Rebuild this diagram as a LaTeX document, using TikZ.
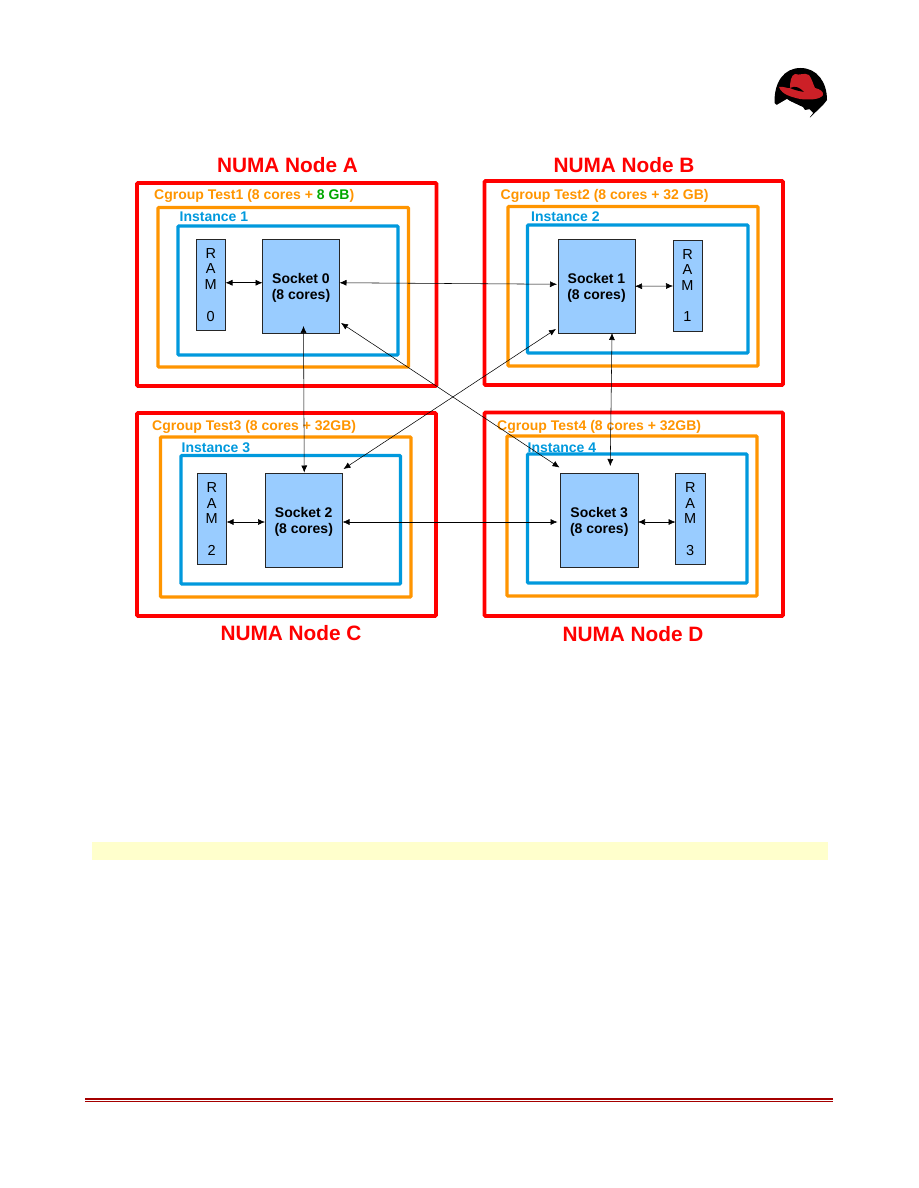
\documentclass[tikz,border=0pt]{standalone}
\usepackage{fontspec}
\setmainfont{Liberation Sans}
\usetikzlibrary{arrows.meta}
\definecolor{nred}{HTML}{FF0000}
\definecolor{norange}{HTML}{FF9500}
\definecolor{nblue}{HTML}{0099DD}
\definecolor{nfill}{HTML}{99CCFF}
\definecolor{ngreen}{HTML}{00A800}
\definecolor{hatred}{HTML}{CC2027}
\definecolor{footred}{HTML}{A50000}
\definecolor{strip}{HTML}{FFFFCC}
\tikzset{
  frame/.style={rectangle,inner sep=0pt,outer sep=0pt,rounded corners=1pt},
  numabox/.style={frame,draw=nred,line width=3.6pt},
  cgbox/.style={frame,draw=norange,line width=3.4pt},
  instbox/.style={frame,draw=nblue,line width=3.4pt},
  socketbox/.style={rectangle,inner sep=0pt,outer sep=0pt,draw=black!85,line width=.6pt,fill=nfill,align=center,
     font={\fontsize{14}{16}\selectfont\bfseries}},
  rambox/.style={socketbox,font={\fontsize{14.5}{15.7}\selectfont}},
  numalabel/.style={text=nred,font={\fontsize{20.8}{24}\selectfont\bfseries},inner sep=0pt},
  cglabel/.style={text=norange,anchor=west,font={\fontsize{14}{16}\selectfont\bfseries},inner sep=0pt},
  instlabel/.style={text=nblue,anchor=west,font={\fontsize{14}{16}\selectfont\bfseries},inner sep=0pt},
  link/.style={draw=black,line width=.55pt,{Latex[length=7pt,width=6pt]}-{Latex[length=7pt,width=6pt]}},
}
\newcommand{\bx}[7][]{%
  \pgfmathsetmacro{\bxw}{#5-#3}\pgfmathsetmacro{\bxh}{#6-#4}%
  \pgfmathsetmacro{\bxa}{(#5+#3)/2}\pgfmathsetmacro{\bxb}{(#6+#4)/2}%
  \node[#2,minimum width=\bxw pt,minimum height=\bxh pt] (#1) at (\bxa,\bxb) {#7};}
\newcommand{\sk}{\rule{0pt}{13pt}}
\begin{document}
\begin{tikzpicture}[x=1pt,y=-1pt]
\useasboundingbox (0,0) rectangle (918,1188);
\fill[white] (0,0) rectangle (918,1188);
% logo
\fill[black] (774.5,103) .. controls (774,82) and (784,68) .. (800.5,68) .. controls (817,68) and (827,82) .. (827,100)
  -- (823,105) -- (810,117.5) -- (805,108) -- (788,100) -- (778,106) -- cycle;
\fill[hatred] (779,87) .. controls (784,86) and (788,89) .. (790,88) .. controls (790,82) and (791,75) .. (795,74)
  .. controls (800,76) and (804,72) .. (809,75) .. controls (812,79) and (813,84) .. (815,88)
  .. controls (820,89) and (824,92) .. (823,95) .. controls (820,100) and (808,100) .. (800,99)
  .. controls (792,97) and (782,95) .. (779,87) -- cycle;
\fill[black] (790,88) .. controls (796,85) and (800,88) .. (804,92) .. controls (799,91) and (794,90) .. (790,88) -- cycle;
\fill[white] (775,106) -- (787,99) .. controls (794,105) and (802,108) .. (808,108) -- (813,113) -- (809,118) -- (782,118) -- cycle;
\fill[black] (803,107) -- (809,107) -- (810,109) -- (805,110) -- cycle;
% strip and footer
\fill[strip] (92,842) rectangle (828,860);
\fill[footred] (85,1098) rectangle (833,1100.3);
\fill[footred] (85,1101) rectangle (833,1101.9);
% frames
\bx[na]{numabox}{137}{183}{436.5}{386}{}
\bx[nb]{numabox}{484.5}{181}{783}{385}{}
\bx[nc]{numabox}{137}{413}{436}{616}{}
\bx[nd]{numabox}{484.5}{412.5}{783}{616}{}
\bx[ca]{cgbox}{158}{207.5}{408.5}{367}{}
\bx[cb]{cgbox}{508}{206.5}{758}{366}{}
\bx[cc]{cgbox}{160.5}{437}{411}{597}{}
\bx[cd]{cgbox}{507}{436}{757}{596}{}
\bx[ia]{instbox}{178}{226}{398}{355}{}
\bx[ib]{instbox}{527.5}{225}{748}{353}{}
\bx[ic]{instbox}{181}{455.5}{400.5}{584}{}
\bx[id]{instbox}{527.5}{454}{747}{583}{}
% labels
\node[numalabel] (la) at (287.5,165.5) {NUMA Node A};
\node[numalabel] (lb) at (624,165.5) {NUMA Node B};
\node[numalabel] (lc) at (291,633) {NUMA Node C};
\node[numalabel] (ld) at (633,634) {NUMA Node D};
\node[cglabel] (ta) at (154,195.5) {Cgroup Test1 (8 cores + \textcolor{ngreen}{8 GB})};
\node[cglabel] (tb) at (500.5,196) {Cgroup Test2 (8 cores + 32 GB)};
\node[cglabel] (tc) at (152,426.5) {Cgroup Test3 (8 cores + 32GB)};
\node[cglabel] (td) at (497,426.5) {Cgroup Test4 (8 cores + 32GB)};
\node[instlabel] (ila) at (179.5,217) {Instance 1};
\node[instlabel] (ilb) at (531,216.5) {Instance 2};
\node[instlabel] (ilc) at (181.5,447.5) {Instance 3};
\node[instlabel] (ild) at (527.5,447.5) {Instance 4};
% sockets and RAM
\bx[s0]{socketbox}{262.5}{239.5}{339.5}{333}{\sk Socket 0\\(8 cores)}
\bx[s1]{socketbox}{558}{239.5}{635}{333}{\sk Socket 1\\(8 cores)}
\bx[s2]{socketbox}{265}{473.5}{342.5}{567.5}{\sk Socket 2\\(8 cores)}
\bx[s3]{socketbox}{560.5}{473.5}{638}{567.5}{\sk Socket 3\\(8 cores)}
\bx[r0]{rambox}{196}{239.5}{225.5}{330}{R\\A\\M\\[15.7pt]0}
\bx[r1]{rambox}{673}{240}{702}{331}{R\\A\\M\\[15.7pt]1}
\bx[r2]{rambox}{197}{473.5}{226.5}{564.5}{R\\A\\M\\[15.7pt]2}
\bx[r3]{rambox}{675.5}{473.5}{705}{564.5}{R\\A\\M\\[15.7pt]3}
% connectors
\draw[link] ([yshift=2pt]r0.east) -- ([yshift=3.5pt]s0.west);
\draw[link] ([yshift=0pt]s1.east) -- ([yshift=-.5pt]r1.west);
\draw[link] ([yshift=-3pt]r2.east) -- ([yshift=-1.5pt]s2.west);
\draw[link] ([yshift=-1.5pt]s3.east) -- ([yshift=-3pt]r3.west);
\draw[link] ([yshift=3.5pt]s0.east) -- ([xshift=-1pt,yshift=2pt]s1.west);
\draw[link] ([yshift=-1.5pt]s2.east) -- ([xshift=-3pt,yshift=-1.5pt]s3.west);
\draw[link] ([xshift=2.5pt,yshift=7pt]s0.south) -- ([xshift=.5pt,yshift=1pt]s2.north);
\draw[link] ([xshift=15.5pt]s1.south) -- ([xshift=11pt,yshift=7.5pt]s3.north);
\draw[link] ([xshift=1.5pt,yshift=10pt]s0.south east) -- ([xshift=-1pt,yshift=6pt]s3.north west);
\draw[link] ([xshift=-2pt,yshift=4pt]s1.south west) -- ([xshift=1pt,yshift=4.5pt]s2.north east);
\end{tikzpicture}
\end{document}
